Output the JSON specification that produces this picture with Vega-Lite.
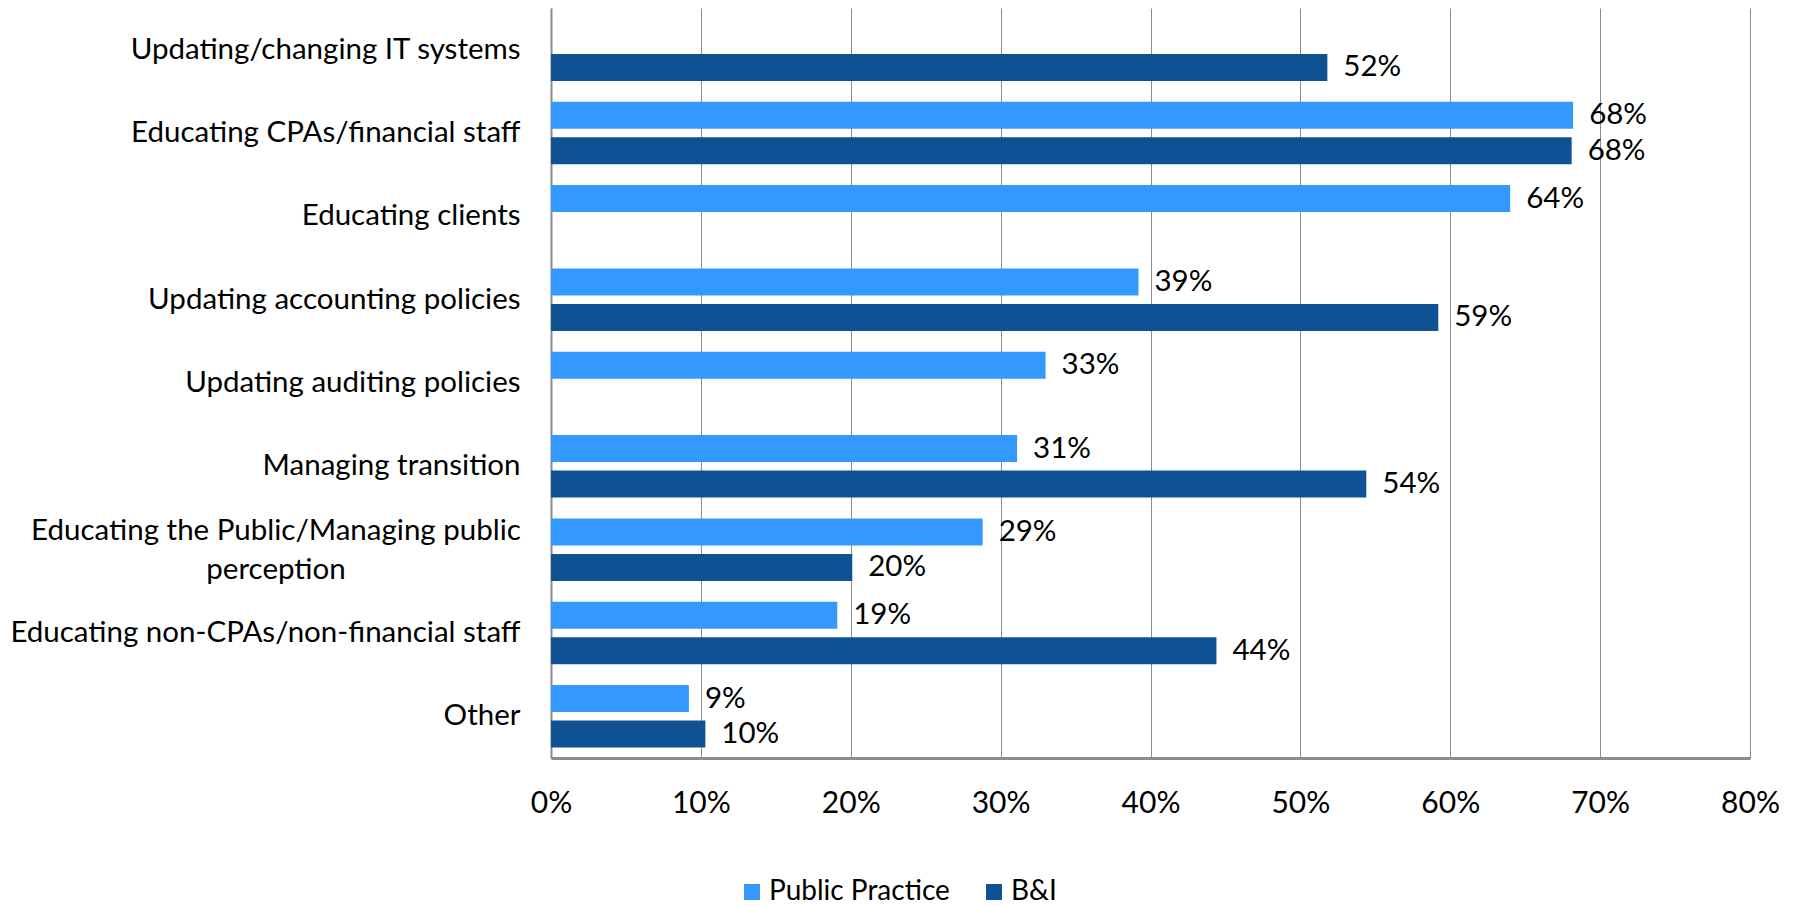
{
  "$schema": "https://vega.github.io/schema/vega-lite/v6.json",
  "width": 1199,
  "height": 750,
  "autosize": {"type": "none"},
  "padding": {"left": 551, "top": 8, "right": 43, "bottom": 148},
  "background": "white",
  "config": {"font": "Lato", "view": {"stroke": null}},
  "data": {
    "values": [
      {"task": "Updating/changing IT systems", "group": "B&I", "value": 0.518},
      {"task": "Educating CPAs/financial staff", "group": "Public Practice", "value": 0.682},
      {"task": "Educating CPAs/financial staff", "group": "B&I", "value": 0.681},
      {"task": "Educating clients", "group": "Public Practice", "value": 0.64},
      {"task": "Updating accounting policies", "group": "Public Practice", "value": 0.392},
      {"task": "Updating accounting policies", "group": "B&I", "value": 0.592},
      {"task": "Updating auditing policies", "group": "Public Practice", "value": 0.33},
      {"task": "Managing transition", "group": "Public Practice", "value": 0.311},
      {"task": "Managing transition", "group": "B&I", "value": 0.544},
      {"task": "Educating the Public/Managing public|perception", "group": "Public Practice", "value": 0.288},
      {"task": "Educating the Public/Managing public|perception", "group": "B&I", "value": 0.201},
      {"task": "Educating non-CPAs/non-financial staff", "group": "Public Practice", "value": 0.191},
      {"task": "Educating non-CPAs/non-financial staff", "group": "B&I", "value": 0.444},
      {"task": "Other", "group": "Public Practice", "value": 0.092},
      {"task": "Other", "group": "B&I", "value": 0.103}
    ]
  },
  "encoding": {
    "y": {
      "field": "task",
      "type": "nominal",
      "sort": null,
      "scale": {"paddingInner": 0.25, "paddingOuter": 0.125},
      "axis": {
        "title": null,
        "ticks": false,
        "labelPadding": 31,
        "labelFontSize": 29.5,
        "labelColor": "#000000",
        "labelLimit": 700,
        "domainColor": "#8c8c8c",
        "domainWidth": 2,
        "labelExpr": "indexof(datum.label,'|') >= 0 ? '' : datum.label"
      }
    },
    "x": {
      "field": "value",
      "type": "quantitative",
      "scale": {"domain": [0, 0.8], "nice": false},
      "axis": {
        "title": null,
        "format": ".0%",
        "values": [0, 0.1, 0.2, 0.3, 0.4, 0.5, 0.6, 0.7, 0.8],
        "grid": true,
        "gridColor": "#8c8c8c",
        "gridWidth": 1,
        "ticks": false,
        "labelFlush": false,
        "labelPadding": 30,
        "labelFontSize": 30,
        "labelColor": "#000000",
        "domainColor": "#8c8c8c",
        "domainWidth": 3
      }
    }
  },
  "layer": [
    {
      "mark": {"type": "bar"},
      "encoding": {
        "yOffset": {
          "field": "group",
          "type": "nominal",
          "scale": {"domain": ["Public Practice", "B&I"], "paddingInner": 0.24}
        },
        "color": {
          "field": "group",
          "type": "nominal",
          "scale": {"domain": ["Public Practice", "B&I"], "range": ["#3399FF", "#0F5294"]},
          "legend": {
            "title": null,
            "orient": "none",
            "legendX": 187,
            "legendY": 870,
            "direction": "horizontal",
            "symbolType": "square",
            "symbolSize": 256,
            "symbolStrokeWidth": 0,
            "labelFontSize": 28,
            "labelLimit": 400,
            "labelColor": "#000000",
            "labelOffset": 3,
            "columnPadding": 30
          }
        }
      }
    },
    {
      "mark": {"type": "text", "align": "left", "baseline": "middle", "dx": 16, "fontSize": 29.5, "color": "#000000"},
      "encoding": {
        "yOffset": {
          "field": "group",
          "type": "nominal",
          "scale": {"domain": ["Public Practice", "B&I"], "paddingInner": 0.24}
        },
        "text": {"field": "value", "type": "quantitative", "format": ".0%"}
      }
    },
    {
      "transform": [{"filter": "indexof(datum.task,'|') >= 0 && datum.group == 'B&I'"}],
      "mark": {"type": "text", "align": "center", "baseline": "middle", "lineBreak": "|", "lineHeight": 39, "dx": -275, "dy": -19, "fontSize": 29.5, "color": "#000000"},
      "encoding": {
        "x": {"datum": 0, "type": "quantitative"},
        "text": {"field": "task", "type": "nominal"}
      }
    }
  ]
}
